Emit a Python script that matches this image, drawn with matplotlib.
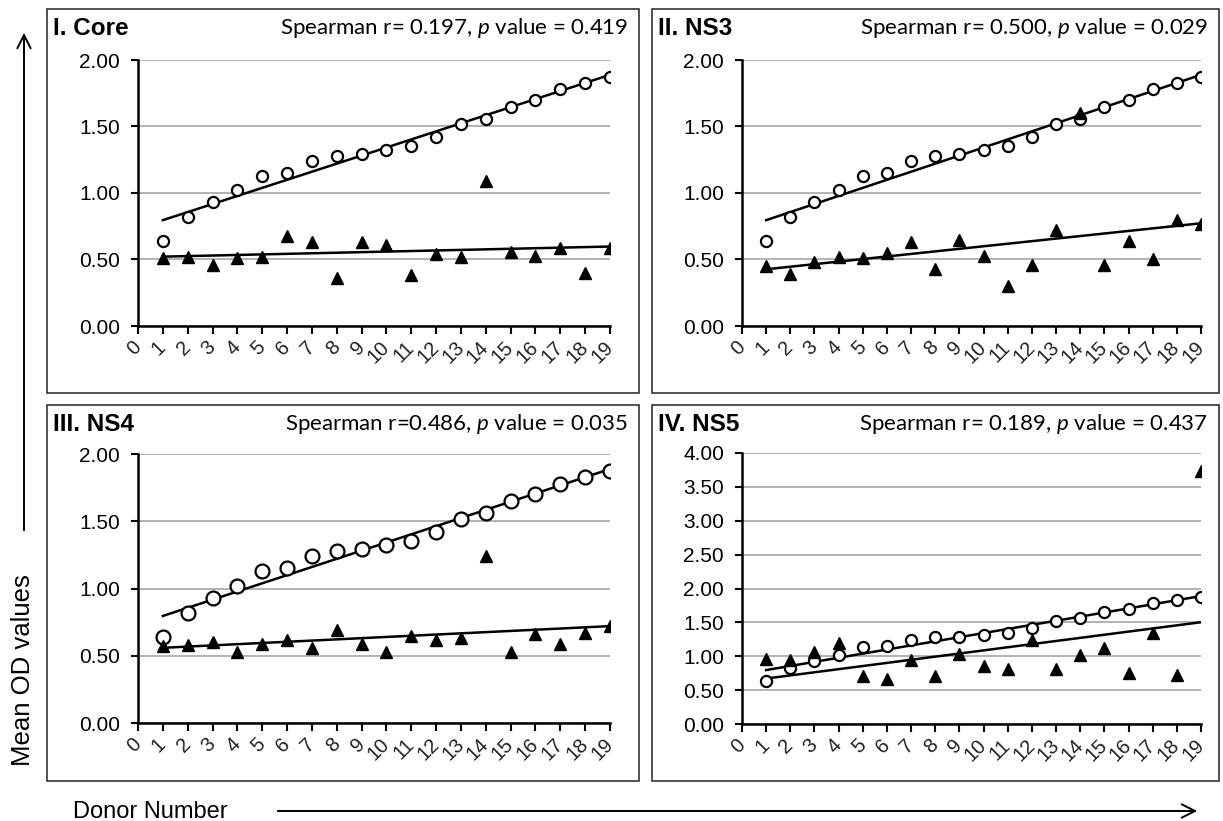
import numpy as np
import matplotlib
matplotlib.use("Agg")
import matplotlib.pyplot as plt
from matplotlib.patches import Rectangle, FancyArrowPatch

plt.rcParams['font.family'] = ['Liberation Sans', 'DejaVu Sans']
plt.rcParams['mathtext.fontset'] = 'custom'
plt.rcParams['mathtext.rm'] = 'Lato'
plt.rcParams['mathtext.it'] = 'Lato:italic'

# donor numbers and mean OD values
donor = list(range(1, 20))
ref_od = [0.64, 0.82, 0.93, 1.02, 1.13, 1.15, 1.24, 1.28, 1.29, 1.32,
          1.35, 1.42, 1.52, 1.56, 1.65, 1.70, 1.78, 1.83, 1.87]
core_od = [0.51, 0.52, 0.46, 0.51, 0.52, 0.68, 0.63, 0.36, 0.63, 0.61,
           0.38, 0.54, 0.52, 1.09, 0.56, 0.53, 0.59, 0.40, 0.59]
ns3_od = [0.45, 0.39, 0.48, 0.52, 0.51, 0.55, 0.63, 0.43, 0.65, 0.53,
          0.30, 0.46, 0.72, 1.60, 0.46, 0.64, 0.50, 0.80, 0.77]
ns4_od = [0.57, 0.58, 0.60, 0.53, 0.59, 0.615, 0.56, 0.69, 0.585, 0.53,
          0.65, 0.615, 0.63, 1.24, 0.53, 0.66, 0.59, 0.67, 0.72]
ns5_od = [0.96, 0.95, 1.07, 1.20, 0.71, 0.66, 0.94, 0.71, 1.03, 0.855,
          0.815, 1.24, 0.81, 1.02, 1.125, 0.75, 1.34, 0.73, 3.73]

titles = ["I. Core", "II. NS3", "III. NS4", "IV. NS5"]
stats = ["Spearman r= 0.197, $p$ value = 0.419",
         "Spearman r= 0.500, $p$ value = 0.029",
         "Spearman r=0.486, $p$ value = 0.035",
         "Spearman r= 0.189, $p$ value = 0.437"]
series = [core_od, ns3_od, ns4_od, ns5_od]
ymax = [2.0, 2.0, 2.0, 4.0]

W, H = 1223, 821
fig = plt.figure(figsize=(W / 100, H / 100), dpi=100)


def rect(x0, y0, x1, y1):
    # pixel box (top-left origin) -> figure fraction
    return [x0 / W, 1 - y1 / H, (x1 - x0) / W, (y1 - y0) / H]


# panel boxes and axes areas, in pixels
boxes = [(47, 9, 639, 393), (652, 9, 1219, 393),
         (47, 405, 639, 781), (652, 405, 1219, 781)]
areas = [(138, 60, 610, 326), (742, 60, 1201, 326),
         (138, 454, 610, 723), (742, 453, 1201, 724)]
circ_size = [8, 8, 10, 8]

for i in range(4):
    bx = boxes[i]
    fig.add_artist(Rectangle((bx[0] / W, 1 - bx[3] / H), (bx[2] - bx[0]) / W,
                             (bx[3] - bx[1]) / H, transform=fig.transFigure,
                             fill=False, lw=1.2, edgecolor='#333333'))
    fig.text((bx[0] + 6) / W, 1 - (bx[1] + 26) / H, titles[i],
             fontsize=17.5, fontweight='bold', va='baseline', ha='left')
    fig.text((bx[2] - 11) / W, 1 - (bx[1] + 25) / H, stats[i],
             fontsize=16, family='Lato', va='baseline', ha='right')

    ax = fig.add_axes(rect(*areas[i]))
    x = np.array(donor)
    y_ref = np.array(ref_od)
    y_s = np.array(series[i])

    ax.plot(x, y_ref, 'o', mfc='white', mec='black', mew=1.6,
            ms=circ_size[i], zorder=3)
    ax.plot(x, y_s, '^', color='black', ms=8.5, zorder=3)

    # linear trend lines
    for yy in (y_ref, y_s):
        k, b = np.polyfit(x, yy, 1)
        ax.plot([1, 19], [k * 1 + b, k * 19 + b], color='black', lw=1.8,
                zorder=2)

    ax.set_xlim(0, 19)
    ax.set_ylim(0, ymax[i])
    ax.set_yticks(np.arange(0, ymax[i] + 0.01, 0.5))
    ax.set_yticklabels([f"{v:.2f}" for v in np.arange(0, ymax[i] + 0.01, 0.5)],
                       fontsize=15)
    ax.set_xticks(range(0, 20))
    ax.set_xticklabels([str(n) for n in range(0, 20)], fontsize=14.5,
                       rotation=45, ha='right', va='center',
                       rotation_mode='anchor', color='#222222')
    ax.tick_params(axis='x', direction='out', length=6, width=1.5, pad=7)
    ax.tick_params(axis='y', direction='out', length=5, width=1.5, pad=8)
    ax.grid(axis='y', color='#a6a6a6', lw=1.2)
    ax.set_axisbelow(True)
    for s in ('top', 'right'):
        ax.spines[s].set_visible(False)
    for s in ('left', 'bottom'):
        ax.spines[s].set_linewidth(1.8)
    ax.spines['bottom'].set_zorder(4)
    ax.patch.set_alpha(0)

# axis captions with long arrows
fig.text(23 / W, 1 - 670 / H, "Mean OD values", rotation=90, fontsize=18.5,
         ha='center', va='center')
fig.add_artist(FancyArrowPatch((24 / W, 1 - 533 / H), (24 / W, 1 - 30 / H),
                               transform=fig.transFigure, arrowstyle='->',
                               mutation_scale=24, lw=1.4, color='black'))
fig.text(73 / W, 1 - 818 / H, "Donor Number", fontsize=17,
         ha='left', va='baseline')
fig.add_artist(FancyArrowPatch((275 / W, 1 - 811 / H), (1200 / W, 1 - 811 / H),
                               transform=fig.transFigure, arrowstyle='->',
                               mutation_scale=24, lw=1.4, color='black'))

fig.savefig("out.png", dpi=100)
